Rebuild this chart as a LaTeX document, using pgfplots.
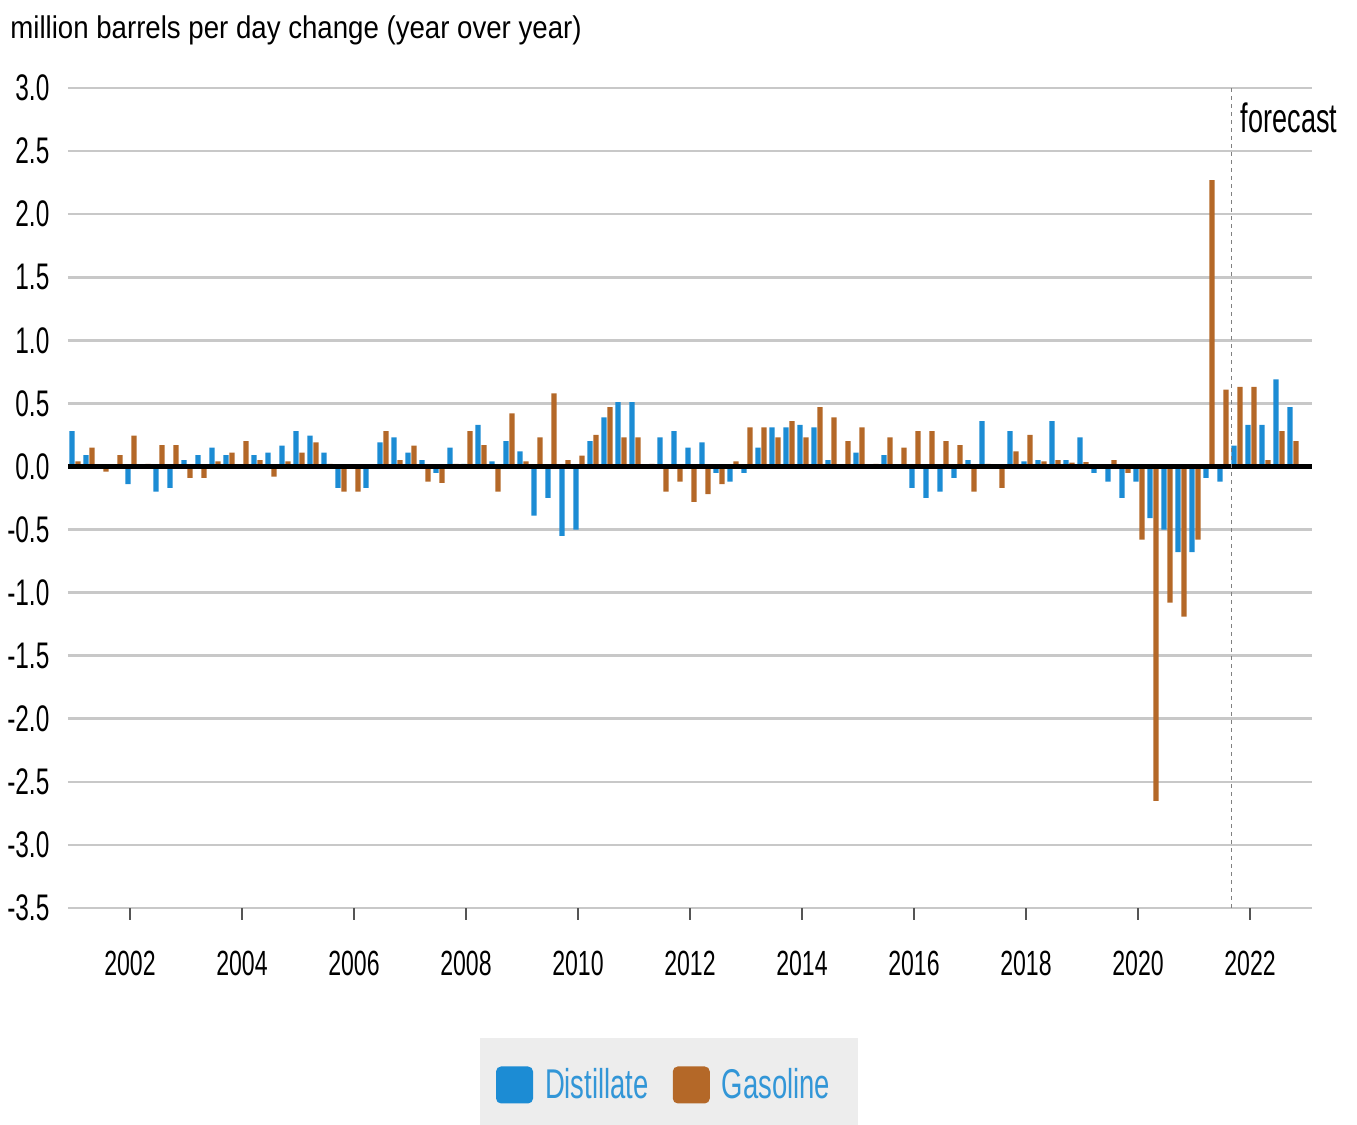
\documentclass[border=0pt]{standalone}
\usepackage{fontspec}
\setmainfont{Liberation Sans}[FakeStretch=0.88]
\newfontfamily\narrowfont{Liberation Sans}[FakeStretch=0.66]
\usepackage{pgfplots}
\pgfplotsset{compat=1.18}
\usepackage{pgfplotstable}
\definecolor{distblue}{HTML}{1C8CD4}
\definecolor{gasbrown}{HTML}{B46828}
\definecolor{leggray}{HTML}{EDEDED}
\definecolor{legblue}{HTML}{3296D7}
\definecolor{gridgray}{HTML}{C8C8C8}
\definecolor{tickgray}{HTML}{555555}
\pgfplotstableread{
x dist gas
2001.00 0.28 0.04
2001.25 0.09 0.15
2001.50 -0.02 -0.04
2001.75 0.00 0.09
2002.00 -0.14 0.245
2002.25 0.01 0.02
2002.50 -0.20 0.17
2002.75 -0.17 0.17
2003.00 0.05 -0.09
2003.25 0.09 -0.09
2003.50 0.15 0.04
2003.75 0.09 0.11
2004.00 0.00 0.20
2004.25 0.09 0.05
2004.50 0.11 -0.08
2004.75 0.165 0.04
2005.00 0.28 0.11
2005.25 0.245 0.19
2005.50 0.11 0.02
2005.75 -0.17 -0.20
2006.00 -0.02 -0.20
2006.25 -0.17 0.00
2006.50 0.19 0.28
2006.75 0.23 0.05
2007.00 0.11 0.165
2007.25 0.05 -0.12
2007.50 -0.05 -0.13
2007.75 0.15 0.02
2008.00 0.02 0.28
2008.25 0.33 0.17
2008.50 0.04 -0.20
2008.75 0.20 0.42
2009.00 0.12 0.04
2009.25 -0.39 0.23
2009.50 -0.25 0.58
2009.75 -0.55 0.05
2010.00 -0.50 0.085
2010.25 0.20 0.25
2010.50 0.39 0.47
2010.75 0.51 0.23
2011.00 0.51 0.23
2011.25 0.00 0.02
2011.50 0.23 -0.20
2011.75 0.28 -0.12
2012.00 0.15 -0.28
2012.25 0.19 -0.22
2012.50 -0.05 -0.14
2012.75 -0.12 0.04
2013.00 -0.05 0.31
2013.25 0.15 0.31
2013.50 0.31 0.23
2013.75 0.31 0.36
2014.00 0.33 0.23
2014.25 0.31 0.47
2014.50 0.05 0.39
2014.75 0.00 0.20
2015.00 0.11 0.31
2015.25 -0.02 0.02
2015.50 0.09 0.23
2015.75 -0.02 0.15
2016.00 -0.17 0.28
2016.25 -0.25 0.28
2016.50 -0.20 0.20
2016.75 -0.09 0.17
2017.00 0.05 -0.20
2017.25 0.36 0.02
2017.50 -0.02 -0.17
2017.75 0.28 0.12
2018.00 0.04 0.25
2018.25 0.05 0.04
2018.50 0.36 0.05
2018.75 0.05 0.03
2019.00 0.23 0.035
2019.25 -0.05 -0.02
2019.50 -0.12 0.05
2019.75 -0.25 -0.05
2020.00 -0.12 -0.58
2020.25 -0.41 -2.65
2020.50 -0.50 -1.08
2020.75 -0.68 -1.19
2021.00 -0.68 -0.58
2021.25 -0.09 2.27
2021.50 -0.12 0.61
2021.75 0.165 0.63
2022.00 0.33 0.63
2022.25 0.33 0.05
2022.50 0.69 0.28
2022.75 0.47 0.20
}\datatable
\begin{document}
\begin{tikzpicture}
\useasboundingbox (0pt,0pt) rectangle (678.5pt,562.5pt);
\begin{axis}[
  at={(34pt,108.5pt)}, anchor=south west,
  scale only axis, width=622pt, height=410pt,
  xmin=2000.893, xmax=2023.107, ymin=-3.5, ymax=3.0,
  ybar, bar width=0.095,
  legend image code/.code={\draw[#1, draw=none, rounded corners=2.5pt] (0pt,-9.25pt) rectangle (18.5pt,9.25pt);},
  axis line style={draw=none},
  ymajorgrids, grid style={draw=gridgray, line width=1.3pt},
  ytick={-3.5,-3,-2.5,-2,-1.5,-1,-0.5,0,0.5,1,1.5,2,2.5,3},
  yticklabels={-3.5,-3.0,-2.5,-2.0,-1.5,-1.0,-0.5,0.0,0.5,1.0,1.5,2.0,2.5,3.0},
  xtick={2002,2004,2006,2008,2010,2012,2014,2016,2018,2020,2022},
  xticklabels={2002,2004,2006,2008,2010,2012,2014,2016,2018,2020,2022},
  xtick pos=left,
  ytick style={draw=none},
  xtick style={draw=tickgray, line width=1pt},
  tick align=outside, major tick length=6pt,
  yticklabel style={font=\narrowfont\fontsize{18.5}{20}\selectfont, xshift=0.2pt},
  xticklabel style={font=\narrowfont\fontsize{17.5}{20}\selectfont, yshift=-12pt},
  clip=false,
  legend style={at={(0.4832,0)}, yshift=-65pt, anchor=north, fill=leggray, draw=none,
    inner xsep=8pt, inner ysep=14pt, legend columns=2,
    font=\narrowfont\fontsize{20.8}{24}\selectfont, text=legblue,
    /tikz/every even column/.append style={column sep=6pt},
    nodes={inner xsep=6pt, inner ysep=1pt}},
]
\addplot[fill=distblue, draw=none, bar shift=0pt] table[x expr=\thisrow{x}-0.036, y=dist] {\datatable};
\addlegendentry{Distillate}
\addplot[fill=gasbrown, draw=none, bar shift=0pt] table[x expr=\thisrow{x}+0.071, y=gas] {\datatable};
\addlegendentry{Gasoline}
\draw[black, line width=2.5pt] (axis cs:2000.893,0) -- (axis cs:2023.107,0);
\draw[gray, line width=0.7pt, dash pattern=on 2pt off 2pt] (axis cs:2021.67,-3.5) -- (axis cs:2021.67,3.0);
\node[anchor=west, inner sep=0pt, font=\narrowfont\fontsize{20.5}{22}\selectfont] at (axis cs:2021.83,2.76) {forecast};
\end{axis}
\node[anchor=west, inner sep=0pt, font=\fontsize{15.7}{18}\selectfont] at (5pt,547.5pt) {million barrels per day change (year over year)};
\end{tikzpicture}
\end{document}
